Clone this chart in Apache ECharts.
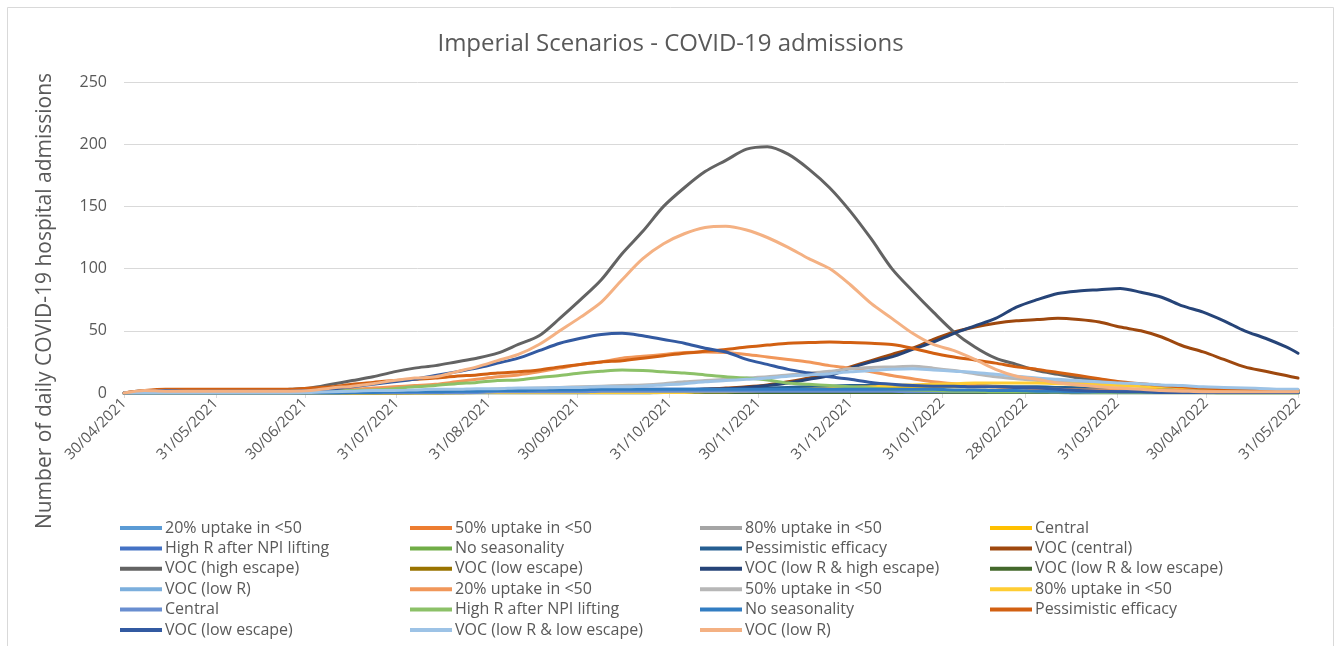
<!DOCTYPE html>
<html>
<head>
<meta charset="utf-8">
<title>Imperial Scenarios - COVID-19 admissions</title>
<script src="https://cdn.jsdelivr.net/npm/echarts@6/dist/echarts.min.js"></script>
<style>
  html, body { margin: 0; padding: 0; background: #fff; }
  #chart { width: 1341px; height: 646px; }
</style>
</head>
<body>
<div id="chart"></div>
<script>
// weekly readings (daily admissions)
const dates = [
  '2021-04-30', '2021-05-07', '2021-05-14', '2021-05-21', '2021-05-28', '2021-06-04', '2021-06-11', '2021-06-18', '2021-06-25', '2021-07-02',
  '2021-07-09', '2021-07-16', '2021-07-23', '2021-07-30', '2021-08-06', '2021-08-13', '2021-08-20', '2021-08-27', '2021-09-03', '2021-09-10',
  '2021-09-17', '2021-09-24', '2021-10-01', '2021-10-08', '2021-10-15', '2021-10-22', '2021-10-29', '2021-11-05', '2021-11-12', '2021-11-19',
  '2021-11-26', '2021-12-03', '2021-12-10', '2021-12-17', '2021-12-24', '2021-12-31', '2022-01-07', '2022-01-14', '2022-01-21', '2022-01-28',
  '2022-02-04', '2022-02-11', '2022-02-18', '2022-02-25', '2022-03-04', '2022-03-11', '2022-03-18', '2022-03-25', '2022-04-01', '2022-04-08',
  '2022-04-15', '2022-04-22', '2022-04-29', '2022-05-06', '2022-05-13', '2022-05-20', '2022-05-27', '2022-05-31'
]

const tickLabels = [
  '30/04/2021', '31/05/2021', '30/06/2021', '31/07/2021', '31/08/2021', '30/09/2021', '31/10/2021',
  '30/11/2021', '31/12/2021', '31/01/2022', '28/02/2022', '31/03/2022', '30/04/2022', '31/05/2022'
]

const uptake20 = [
  0, 0, 0, 0, 0, 0, 0, 0, 0, 0,
  0, 0.5, 0.5, 0.5, 0.5, 0.5, 0.5, 1, 1, 1,
  1, 1, 1, 1, 1, 1, 1, 1, 1, 1,
  1, 1, 1, 1, 1, 1, 1, 1, 1, 1,
  1, 0.5, 0.5, 0.5, 0.5, 0.5, 0.5, 0.5, 0.5, 0.5,
  0.5, 0.5, 0.5, 0.5, 0.5, 0.5, 0.5, 0.5
]
const uptake50 = [
  0, 0.5, 0.5, 0.5, 0.5, 0.5, 0.5, 0.5, 0.5, 0.5,
  1, 1, 1.5, 1.5, 2, 2, 2.5, 2.5, 3, 3,
  3, 3, 3, 3, 3, 3, 2.5, 2.5, 2.5, 2,
  2, 2, 2, 1.5, 1.5, 1.5, 1.5, 1, 1, 1,
  1, 1, 1, 1, 0.5, 0.5, 0.5, 0.5, 0.5, 0.5,
  0.5, 0.5, 0.5, 0.5, 0.5, 0.5, 0.5, 0.5
]
const uptake80 = [
  0, 0, 0, 0, 0, 0, 0, 0, 0, 0,
  0, 0, 0, 0, 0.5, 0.5, 0.5, 0.5, 0.5, 0.5,
  1, 1, 1, 1, 1, 1.5, 1.5, 1.5, 1.5, 1.5,
  2, 2, 2, 2, 2, 2, 2, 2, 2, 1.5,
  1.5, 1.5, 1.5, 1, 1, 1, 1, 1, 1, 1,
  0.5, 0.5, 0.5, 0.5, 0.5, 0.5, 0.5, 0.5
]
const central = [
  0, 0, 0, 0, 0, 0, 0, 0, 0, 0,
  0, 0, 0, 0, 0, 0, 0.5, 0.5, 0.5, 0.5,
  0.5, 0.5, 0.5, 0.5, 1, 1, 1, 1, 1.5, 1.5,
  2, 2, 2.5, 3, 3.5, 4, 4.5, 5, 5, 5,
  5, 5, 5, 4.5, 4.5, 4, 4, 3.5, 3.5, 3,
  3, 2.5, 2.5, 2, 2, 2, 1.5, 1.5
]
const highR = [
  0, 0, 0, 0, 0, 0, 0, 0, 0, 0.5,
  0.5, 1, 1, 1.5, 1.5, 2, 2, 2.5, 2.5, 3,
  3, 3, 3, 3, 3, 3, 3, 3, 3, 3,
  3, 3, 3, 3, 2.5, 2.5, 2.5, 2, 2, 2,
  1.5, 1.5, 1.5, 1, 1, 1, 1, 1, 0.5, 0.5,
  0.5, 0.5, 0.5, 0.5, 0.5, 0.5, 0.5, 0.5
]
const noSeasonality = [
  0, 0, 0, 0, 0, 0, 0, 0, 0, 0,
  0, 0.5, 0.5, 0.5, 0.5, 1, 1, 1, 1, 1,
  1, 1, 1, 1, 1, 1, 1, 1, 1, 1,
  1, 1, 1, 1, 1, 1, 1, 1, 0.5, 0.5,
  0.5, 0.5, 0.5, 0.5, 0.5, 0.5, 0.5, 0.5, 0.5, 0.5,
  0.5, 0.5, 0.5, 0, 0, 0, 0, 0
]
const pessimistic = [
  0, 0, 0, 0, 0, 0, 0, 0, 0, 0,
  0, 0, 0, 0, 0.5, 0.5, 0.5, 0.5, 0.5, 0.5,
  1, 1, 1, 1.5, 1.5, 2, 2, 2.5, 3, 3,
  3.5, 4, 4.5, 5, 5.5, 6, 6, 6, 6, 6,
  6, 6, 5.5, 5, 5, 4.5, 4, 3, 2, 1.5,
  1, 1, 0.5, 0.5, 0.5, 0.5, 0.5, 0.5
]
const vocCentral = [
  0, 0.5, 0.5, 0.5, 0.5, 0.5, 0.5, 0.5, 0.5, 0.5,
  0.5, 0.5, 1, 1, 1, 1, 1, 1, 1, 1,
  1, 1.5, 1.5, 1.5, 1.5, 2, 2, 2.5, 3, 4,
  5, 6.5, 9, 12, 16, 21, 26, 31, 36, 43,
  49, 53, 56, 58, 59, 60, 59, 57, 53, 50,
  45, 38, 33, 27, 21, 17.5, 14, 12
]
const vocHighEscape = [
  0, 2, 2, 2, 2, 2, 2, 2, 3, 4,
  7, 10, 13, 17, 20, 22, 25, 28, 32, 39,
  46, 60, 75, 91, 112, 130, 150, 165, 178, 187,
  196, 198, 192, 180, 165, 146, 124, 100, 82, 65,
  49, 37, 28, 23, 18, 15, 12, 10, 8, 6,
  5, 4, 3, 3, 2, 2, 2, 2
]
const vocLowEscape = [
  0, 0, 0, 0, 0, 0, 0, 0, 0, 0,
  0, 0, 0, 0, 0, 0, 0, 0.5, 0.5, 0.5,
  0.5, 0.5, 0.5, 0.5, 0.5, 0.5, 1, 1, 1, 1,
  1, 1, 1, 1, 1, 1, 1, 1, 1, 1,
  1, 1, 1, 1, 0.5, 0.5, 0.5, 0.5, 0.5, 0.5,
  0.5, 0.5, 0.5, 0.5, 0.5, 0.5, 0.5, 0.5
]
const vocLowRHighEscape = [
  0, 0.5, 0.5, 0.5, 0.5, 0.5, 0.5, 0.5, 0.5, 0.5,
  0.5, 0.5, 0.5, 0.5, 0.5, 0.5, 0.5, 0.5, 0.5, 0.5,
  1, 1, 1, 1.5, 1.5, 2, 2, 2.5, 3, 3.5,
  4.5, 6, 8, 11, 14, 20, 25, 29, 35, 41,
  48, 54, 60, 69, 75, 80, 82, 83, 84, 81,
  77, 70, 65, 58, 50, 44, 37, 32
]
const vocLowRLowEscape = [
  0, 0, 0, 0, 0, 0, 0, 0, 0, 0,
  0, 0, 0, 0, 0, 0, 0, 0, 0, 0,
  0, 0, 0, 0, 0, 0, 0.5, 0.5, 0.5, 0.5,
  0.5, 0.5, 0.5, 0.5, 0.5, 0.5, 0.5, 0.5, 0.5, 0.5,
  0.5, 0.5, 0.5, 0.5, 0.5, 0.5, 0, 0, 0, 0,
  0, 0, 0, 0, 0, 0, 0, 0
]
const vocLowR = [
  0, 0, 0, 0, 0, 0, 0, 0, 0, 0,
  0.5, 0.5, 0.5, 1, 1, 1, 1.5, 1.5, 1.5, 2,
  2, 2, 2, 2.5, 2.5, 2.5, 2.5, 2.5, 2.5, 2.5,
  2.5, 2.5, 2.5, 2.5, 2.5, 2.5, 2, 2, 2, 2,
  2, 1.5, 1.5, 1.5, 1.5, 1, 1, 1, 1, 1,
  1, 1, 0.5, 0.5, 0.5, 0.5, 0.5, 0.5
]
// second run of scenarios
const uptake20B = [
  0, 1, 1, 1, 1, 1, 1, 1, 1, 1.5,
  2, 3, 4, 5, 6, 7, 9, 11, 13, 14.5,
  17, 20, 23, 25, 28, 29.5, 31, 32.5, 33, 32.5,
  31, 29, 27, 25, 22, 20, 17, 14, 11.5, 9,
  7.5, 6, 5, 4, 3.5, 3, 2.5, 2.5, 2, 2,
  2, 2, 1.5, 1.5, 1.5, 1.5, 1.5, 1.5
]
const uptake50B = [
  0, 0.5, 0.5, 0.5, 0.5, 0.5, 0.5, 0.5, 0.5, 0.5,
  0.5, 1, 1, 1, 1, 1.5, 2, 2.5, 3, 3.5,
  4, 4.5, 5, 5.5, 6, 6.5, 7.5, 9, 10, 11,
  12, 13, 14.5, 16, 17.5, 19.5, 20.5, 21, 21.5, 20,
  18, 15.5, 13, 11.5, 10, 9, 8, 7.5, 6.5, 5.5,
  5, 4.5, 4, 3.5, 3, 3, 2.5, 2.5
]
const uptake80B = [
  0, 0, 0, 0, 0, 0, 0, 0, 0, 0,
  0, 0, 0, 0, 0.5, 0.5, 0.5, 0.5, 0.5, 0.5,
  0.5, 0.5, 0.5, 0.5, 0.5, 0.5, 0.5, 0.5, 1, 1,
  1.5, 2, 2.5, 3, 3.5, 4.5, 5, 6, 6.5, 7,
  7.5, 8, 8, 8, 8, 7.5, 7, 6.5, 6, 5.5,
  5, 4.5, 4, 3.5, 3, 2.5, 2, 2
]
const centralB = [
  0, 0, 0, 0, 0, 0, 0, 0, 0, 0,
  0, 0.5, 0.5, 0.5, 0.5, 0.5, 0.5, 0.5, 1, 1,
  1, 1, 1, 1.5, 1.5, 1.5, 1.5, 1.5, 1.5, 1.5,
  1.5, 1.5, 1.5, 1.5, 1.5, 1.5, 1.5, 1.5, 1, 1,
  1, 1, 1, 1, 1, 1, 1, 0.5, 0.5, 0.5,
  0.5, 0.5, 0.5, 0.5, 0.5, 0.5, 0.5, 0.5
]
const highRB = [
  0, 1, 1, 1, 1, 1, 1, 1, 1, 1,
  1.5, 2, 2.5, 3.5, 5, 6, 7.5, 8.5, 10, 10.5,
  12.5, 14, 16, 17.5, 18.5, 18, 17, 16, 14.5, 13,
  12, 10.5, 8, 7, 6, 5, 4, 3, 2.5, 2,
  1.5, 1.5, 1, 1, 1, 1, 1, 0.5, 0.5, 0.5,
  0.5, 0.5, 0.5, 0.5, 0.5, 0.5, 0.5, 0.5
]
const noSeasonalityB = [
  0, 0, 0, 0, 0, 0, 0, 0, 0, 0,
  0, 0.5, 0.5, 1, 1, 1, 1.5, 1.5, 2, 2,
  2.5, 2.5, 2.5, 3, 3, 3, 3, 3, 3, 3,
  3, 3, 3, 3, 3, 3, 3, 3, 3, 3,
  2.5, 2.5, 2, 2, 1.5, 1.5, 1, 1, 1, 1,
  0.5, 0.5, 0.5, 0.5, 0.5, 0.5, 0.5, 0.5
]
const pessimisticB = [
  0, 2, 3, 3, 3, 3, 3, 3, 3, 4,
  5, 7, 8.5, 10, 11, 12, 13.5, 14.5, 16, 17,
  18.5, 21, 23, 25, 26, 28, 30, 32, 33.5, 35,
  37, 38.5, 40, 40.5, 41, 40.5, 40, 39, 36, 32,
  29, 26.5, 24, 21, 19, 16.5, 14, 11.5, 9, 7.5,
  6, 5, 4, 3.5, 3, 2.5, 2.5, 2.5
]
const vocLowEscapeB = [
  0, 1, 2, 1.5, 1.5, 1.5, 1.5, 1.5, 1.5, 2,
  3, 5, 7, 9, 11, 14, 17, 20, 24, 28,
  34, 40, 44, 47, 48, 46, 43, 40, 36, 33,
  27, 23, 19, 16, 13, 11, 8.5, 7, 6, 5.5,
  5.5, 5, 5, 4.5, 4, 3, 2, 1.5, 1, 1,
  0.5, 0.5, 0.5, 0.5, 0.5, 0.5, 0.5, 0.5
]
const vocLowRLowEscapeB = [
  0, 0, 0, 0, 0, 0, 0, 0, 0, 0.5,
  1, 1.5, 2, 2, 2.5, 3, 3, 3.5, 3.5, 4,
  4, 4.5, 4.5, 5, 5, 5.5, 6.5, 7.5, 9, 10,
  11, 12, 13.5, 14.5, 15.5, 17, 18, 19, 19.5, 18.5,
  17.5, 16.5, 15, 13.5, 12, 11, 10, 9, 8, 7.5,
  6.5, 6, 5, 4.5, 4, 3.5, 3, 3
]
const vocLowRB = [
  0, 2, 1.5, 1.5, 1.5, 1.5, 1.5, 1.5, 1.5, 2,
  4, 5.5, 7.5, 10, 12, 13, 17, 21, 26, 31,
  39, 50, 61, 73, 91, 108, 120, 128, 133, 134,
  131, 125, 117, 108, 100, 87, 72, 60, 48, 39,
  34, 27, 19, 13.5, 11, 8, 6.5, 5, 4, 3,
  2, 1.5, 1, 1, 1, 1, 1, 1
]

const seriesNames = [
  '20% uptake in <50', '50% uptake in <50', '80% uptake in <50', 'Central',
  'High R after NPI lifting', 'No seasonality', 'Pessimistic efficacy', 'VOC (central)',
  'VOC (high escape)', 'VOC (low escape)', 'VOC (low R & high escape)', 'VOC (low R & low escape)',
  'VOC (low R)', '20% uptake in <50', '50% uptake in <50', '80% uptake in <50',
  'Central', 'High R after NPI lifting', 'No seasonality', 'Pessimistic efficacy',
  'VOC (low escape)', 'VOC (low R & low escape)', 'VOC (low R)'
]
const seriesValues = [
  uptake20, uptake50, uptake80, central, highR, noSeasonality, pessimistic, vocCentral,
  vocHighEscape, vocLowEscape, vocLowRHighEscape, vocLowRLowEscape, vocLowR,
  uptake20B, uptake50B, uptake80B, centralB, highRB, noSeasonalityB, pessimisticB,
  vocLowEscapeB, vocLowRLowEscapeB, vocLowRB
]
const colors = [
  '#5B9BD5', '#ED7D31', '#A5A5A5', '#FFC000', '#4472C4', '#70AD47', '#255E91', '#9E480E',
  '#636363', '#997300', '#264478', '#43682B', '#7CAFDD', '#F1975A', '#B7B7B7', '#FFCD33',
  '#698ED0', '#8CC168', '#327DC2', '#D26012', '#335AA1', '#9DC3E6', '#F4B183'
]

const font = '"Open Sans", "Noto Sans", sans-serif'
const textColor = '#595959'
const gridColor = '#D9D9D9'
const DAY = 86400000

function isoTime(s) {
  const p = s.split('-')
  return Date.UTC(+p[0], +p[1] - 1, +p[2])
}
function labelTime(s) {
  const p = s.split('/')
  return Date.UTC(+p[2], +p[1] - 1, +p[0])
}
// x axis counts days from the first tick date
const start = labelTime(tickLabels[0])
const tickDays = tickLabels.map(s => Math.round((labelTime(s) - start) / DAY))
const dayOf = s => Math.round((isoTime(s) - start) / DAY)

// second run shares the names, so give it a key the legend strips off
const keys = seriesNames.map((n, i) => (i >= 13 ? n + ' #2' : n))

const chart = echarts.init(document.getElementById('chart'))

const legendLeft = [120, 410, 700, 990]
const legends = legendLeft.map((left, col) => ({
  orient: 'vertical',
  left: left,
  top: 520,
  height: 126,
  padding: 0,
  itemWidth: 42,
  itemHeight: 4,
  itemGap: 4.4,
  icon: 'rect',
  selectedMode: false,
  data: keys.filter((k, i) => i % 4 === col),
  formatter: name => name.replace(' #2', ''),
  lineStyle: { width: 4 },
  textStyle: { fontFamily: font, fontSize: 16, color: textColor, lineHeight: 14, padding: [0, 0, 0, -2] }
}))

chart.setOption({
  backgroundColor: '#fff',
  animation: false,
  title: {
    text: 'Imperial Scenarios - COVID-19 admissions',
    left: 'center',
    top: 27,
    textStyle: { fontFamily: font, fontSize: 24, fontWeight: 'normal', color: textColor }
  },
  legend: legends,
  grid: { left: 124, right: 43, top: 82, bottom: 253 },
  xAxis: {
    type: 'value',
    min: 0,
    max: tickDays[tickDays.length - 1],
    axisLine: { show: true, onZero: false, lineStyle: { color: gridColor, width: 1 } },
    axisTick: { show: true, customValues: tickDays, length: 5, lineStyle: { color: gridColor } },
    axisLabel: {
      customValues: tickDays,
      rotate: 45,
      margin: 8,
      color: textColor,
      fontFamily: font,
      fontSize: 15,
      formatter: v => {
        const i = tickDays.indexOf(v)
        return i >= 0 ? tickLabels[i] : ''
      }
    },
    splitLine: { show: false }
  },
  yAxis: {
    type: 'value',
    min: 0,
    max: 250,
    interval: 50,
    axisLine: { show: false },
    axisTick: { show: false },
    axisLabel: { color: textColor, fontFamily: font, fontSize: 16, margin: 17 },
    splitLine: { lineStyle: { color: gridColor, width: 1 } }
  },
  graphic: [
    {
      type: 'rect',
      silent: true,
      shape: { x: 7.5, y: 7.5, width: 1326, height: 700 },
      style: { fill: 'none', stroke: gridColor, lineWidth: 1 }
    },
    {
      type: 'text',
      silent: true,
      x: 45,
      y: 301,
      rotation: Math.PI / 2,
      style: {
        text: 'Number of daily COVID-19 hospital admissions',
        fill: textColor,
        font: '21px "Open Sans", "Noto Sans", sans-serif',
        align: 'center',
        verticalAlign: 'middle'
      }
    }
  ],
  series: seriesValues.map((vals, i) => ({
    name: keys[i],
    type: 'line',
    symbol: 'none',
    smooth: 0.3,
    color: colors[i],
    lineStyle: { width: 3, color: colors[i], join: 'round', cap: 'round' },
    data: dates.map((d, j) => [dayOf(d), vals[j]])
  }))
})

window.onresize = () => {
  chart.resize()
}
</script>
</body>
</html>
